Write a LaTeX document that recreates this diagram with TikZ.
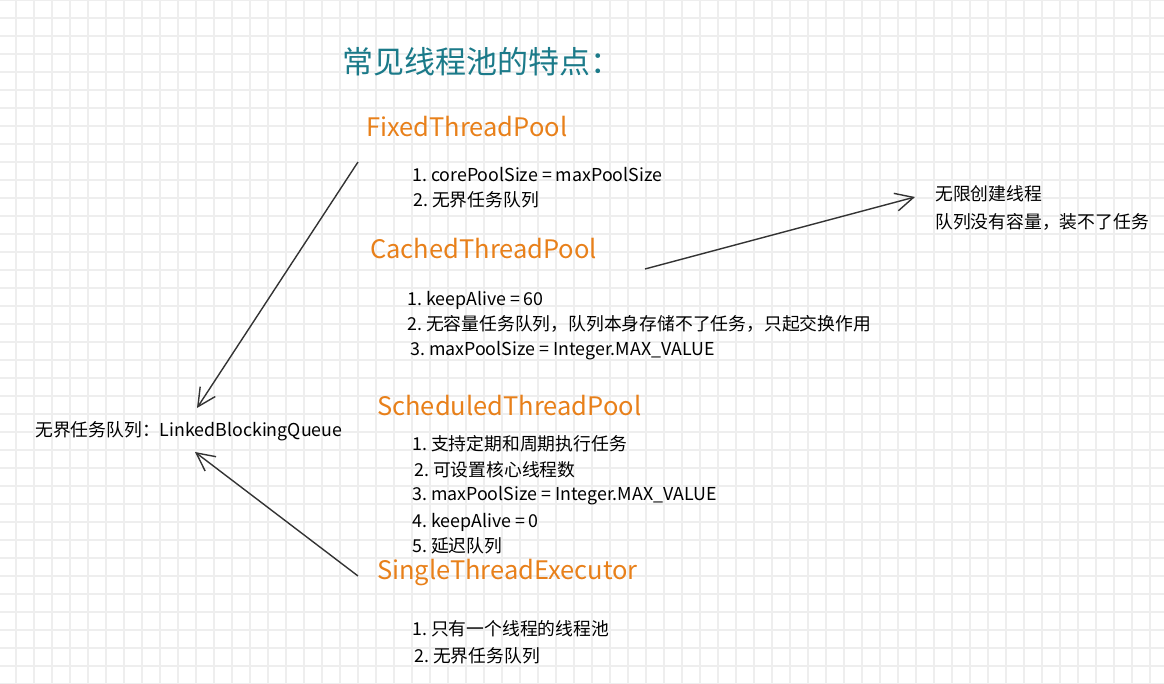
\documentclass[tikz,border=0pt]{standalone}
\usepackage{fontspec}
\setmainfont{Noto Sans CJK SC}
\usetikzlibrary{arrows.meta}
\usepackage{xcolor}
\definecolor{titleteal}{HTML}{1B7A89}
\definecolor{poolorange}{HTML}{E8801A}
\definecolor{gridgray}{HTML}{EEEEEE}
\definecolor{inkgray}{HTML}{333333}

\begin{document}
\begin{tikzpicture}[x=1pt,y=-1pt,
  gridline/.style={gridgray,line width=1.2pt},
  pool/.style={anchor=west,inner sep=0pt,text=poolorange,font=\fontsize{25.5}{29}\selectfont},
  item/.style={anchor=west,inner sep=0pt,font=\fontsize{17.8}{21}\selectfont},
  link/.style={draw=inkgray,line width=1.4pt,-{Straight Barb[length=18pt,width=18pt]}}]
\useasboundingbox (0,0) rectangle (1164,684);
% paper grid
\foreach \gx in {16,34,...,1164} \draw[gridline] (\gx,0) -- (\gx,684);
\foreach \gy in {0,18,...,684} \draw[gridline] (0,\gy) -- (1164,\gy);
% title
\node[anchor=west,inner sep=0pt,text=titleteal,font=\fontsize{31}{35}\selectfont] (title) at (342,62) {常见线程池的特点：};
% FixedThreadPool
\node[pool] (fixed) at (366,127) {FixedThreadPool};
\node[item] (fixed1) at (412,175) {1.\ corePoolSize = maxPoolSize};
\node[item] (fixed2) at (413,200) {2.\ 无界任务队列};
% CachedThreadPool
\node[pool] (cached) at (370,249) {CachedThreadPool};
\node[item] (cached1) at (407,300) {1.\ keepAlive = 60};
\node[item] (cached2) at (407,324) {2.\ 无容量任务队列，队列本身存储不了任务，只起交换作用};
\node[item] (cached3) at (410,351) {3.\ maxPoolSize = Integer.MAX\_VALUE};
\node[item] (unlim1) at (935,194) {无限创建线程};
\node[item] (unlim2) at (935,222) {队列没有容量，装不了任务};
% ScheduledThreadPool
\node[pool] (sched) at (377,406) {ScheduledThreadPool};
\node[item] (sched1) at (412,444) {1.\ 支持定期和周期执行任务};
\node[item] (sched2) at (414,470) {2.\ 可设置核心线程数};
\node[item] (sched3) at (412,496) {3.\ maxPoolSize = Integer.MAX\_VALUE};
\node[item] (sched4) at (412,522) {4.\ keepAlive = 0};
\node[item] (sched5) at (412,546) {5.\ 延迟队列};
% SingleThreadExecutor
\node[pool] (single) at (377,573) {SingleThreadExecutor};
\node[item] (single1) at (412,629) {1.\ 只有一个线程的线程池};
\node[item] (single2) at (414,656) {2.\ 无界任务队列};
% shared queue
\node[item] (queue) at (35,431) {无界任务队列：LinkedBlockingQueue};
% arrows
\draw[link] ([shift={(-8,35)}]fixed.west) -- ([shift={(162,-23)}]queue.west);
\draw[link] ([shift={(-19,3)}]single.west) -- ([shift={(160,21)}]queue.west);
\draw[link] ([shift={(275,20)}]cached.west) -- ([shift={(-20,3)}]unlim1.west);
\end{tikzpicture}
\end{document}
